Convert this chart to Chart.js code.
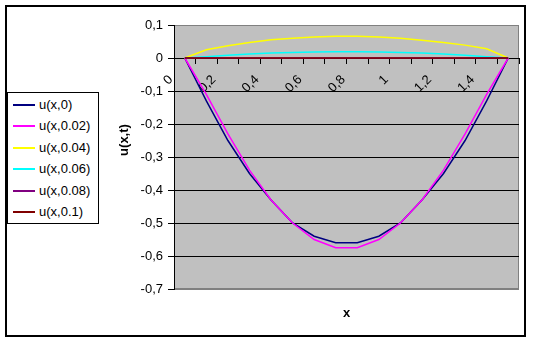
<!DOCTYPE html>
<html>
<head>
<meta charset="utf-8">
<script src="https://cdn.jsdelivr.net/npm/chart.js@4.4.0/dist/chart.umd.min.js"></script>
<style>
  body { margin: 0; background: #fff; }
  #wrap { position: relative; width: 533px; height: 341px; font-family: 'Liberation Sans', Arial, sans-serif; }
  #chart { position: absolute; left: 0; top: 0; }
  #frame { position: absolute; left: 5px; top: 5px; width: 517px; height: 328px; border: 2px solid #000; pointer-events: none; }
  #legend { position: absolute; left: 7px; top: 92px; width: 90px; height: 130px; border: 1px solid #000; background: #fff; font-size: 13px; color: #000; }
  .row { position: absolute; left: 0; width: 90px; height: 16px; line-height: 16px; }
  .swatch { position: absolute; left: 5px; top: 7px; width: 22px; height: 2px; }
  .lbl { position: absolute; left: 31px; top: 0; white-space: nowrap; }
</style>
</head>
<body>
<div id="wrap">
  <canvas id="chart" width="533" height="341"></canvas>
  <div id="legend"></div>
  <div id="frame"></div>
</div>
<script>
// x positions (categories) and the six time slices
const xValues = [0, 0.1, 0.2, 0.3, 0.4, 0.5, 0.6, 0.7, 0.8, 0.9, 1, 1.1, 1.2, 1.3, 1.4, 1.5];
const seriesNames = ['u(x,0)', 'u(x,0.02)', 'u(x,0.04)', 'u(x,0.06)', 'u(x,0.08)', 'u(x,0.1)'];
const seriesColors = ['#000080', '#ff00ff', '#ffff00', '#00ffff', '#800080', '#800000'];

const uT0   = [0, -0.13, -0.25, -0.35, -0.43, -0.50, -0.54, -0.56, -0.56, -0.54, -0.50, -0.43, -0.35, -0.25, -0.13, 0];
const uT002 = [0, -0.11, -0.23, -0.34, -0.43, -0.50, -0.55, -0.575, -0.575, -0.55, -0.50, -0.43, -0.34, -0.23, -0.11, 0];
const uT004 = [0, 0.025, 0.037, 0.047, 0.055, 0.06, 0.064, 0.066, 0.066, 0.064, 0.06, 0.054, 0.047, 0.039, 0.028, 0];
const uT006 = [0, 0.004, 0.008, 0.012, 0.015, 0.017, 0.018, 0.019, 0.019, 0.018, 0.017, 0.015, 0.012, 0.008, 0.004, 0];
const uT008 = [0, 0, 0, 0, 0, 0, 0, 0, 0, 0, 0, 0, 0, 0, 0, 0];
const uT01  = [0, 0, 0, 0, 0, 0, 0, 0, 0, 0, 0, 0, 0, 0, 0, 0];

const yMin = -0.7, yMax = 0.1, yStep = 0.1;

const seriesData = [uT0, uT002, uT004, uT006, uT008, uT01];
const commaNum = v => String(Math.round(v * 10) / 10).replace('.', ',');
const xLabels = xValues.map(v => String(v).replace('.', ','));

Chart.defaults.font.family = "'Liberation Sans', Arial, sans-serif";
Chart.defaults.font.size = 13;
Chart.defaults.color = '#000';

// legend (Excel style box on the left)
const legendEl = document.getElementById('legend');
seriesNames.forEach((name, i) => {
  const row = document.createElement('div');
  row.className = 'row';
  row.style.top = (3.5 + i * 21.5) + 'px';
  row.innerHTML = `<div class="swatch" style="background:${seriesColors[i]}"></div><span class="lbl">${name}</span>`;
  legendEl.appendChild(row);
});

// grey plot area with grey border
const plotBg = {
  id: 'plotBg',
  beforeDraw(chart) {
    const { ctx, chartArea: a } = chart;
    ctx.save();
    ctx.fillStyle = '#c0c0c0';
    ctx.fillRect(a.left, a.top, a.right - a.left, a.bottom - a.top);
    ctx.strokeStyle = '#808080';
    ctx.lineWidth = 1;
    ctx.strokeRect(a.left + 0.5, a.top + 0.5, a.right - a.left - 1, a.bottom - a.top - 1);
    ctx.restore();
  }
};

// y axis title, placed like Excel does it
const yTitle = {
  id: 'yTitle',
  afterDraw(chart) {
    const ctx = chart.ctx;
    ctx.save();
    ctx.font = "bold 13px 'Liberation Sans', Arial, sans-serif";
    ctx.fillStyle = '#000';
    ctx.translate(124, 140);
    ctx.rotate(-Math.PI / 2);
    ctx.textAlign = 'center';
    ctx.textBaseline = 'middle';
    ctx.fillText('u(x,t)', 0, 0);
    ctx.restore();
  }
};

const isEdge = v => Math.abs(v - yMax) < 1e-6 || Math.abs(v - yMin) < 1e-6;

new Chart(document.getElementById('chart'), {
  type: 'line',
  data: {
    labels: xLabels,
    datasets: seriesData.map((d, i) => ({
      label: seriesNames[i],
      data: d,
      xAxisID: 'x',
      borderColor: seriesColors[i],
      backgroundColor: seriesColors[i],
      borderWidth: 1.5,
      pointRadius: 0,
      tension: 0,
      fill: false,
      order: seriesData.length - i
    }))
  },
  options: {
    responsive: false,
    animation: false,
    devicePixelRatio: 1,
    layout: { padding: { left: 110, right: 14, top: 25, bottom: 0 } },
    plugins: {
      legend: { display: false },
      tooltip: { enabled: false },
      title: {
        display: true,
        text: 'x',
        position: 'bottom',
        fullSize: false,
        font: { size: 13, weight: 'bold' },
        color: '#000',
        padding: { top: 16.4, bottom: 20 }
      }
    },
    scales: {
      x: {
        type: 'category',
        position: { y: 0 },
        offset: true,
        grid: { offset: true, drawOnChartArea: false, drawTicks: true, tickLength: 5, color: '#000' },
        border: { color: '#000', width: 1 },
        ticks: {
          autoSkip: false,
          minRotation: 45,
          maxRotation: 45,
          padding: 9,
          labelOffset: -14,
          color: '#000',
          callback(v, i) { return i % 2 === 0 ? this.getLabelForValue(v) : ''; }
        },
        afterFit(s) { s.height = 0; }
      },
      y: {
        type: 'linear',
        position: 'left',
        min: yMin,
        max: yMax,
        ticks: { stepSize: yStep, padding: 5, color: '#000', callback: v => commaNum(v) },
        grid: {
          color: c => (c.tick && isEdge(c.tick.value)) ? '#808080' : '#000',
          tickColor: '#000',
          tickLength: 6,
          lineWidth: 1
        },
        border: { color: '#000', width: 1 },
        afterFit(s) { s.width = 64; }
      }
    }
  },
  plugins: [plotBg, yTitle]
});
</script>
</body>
</html>
